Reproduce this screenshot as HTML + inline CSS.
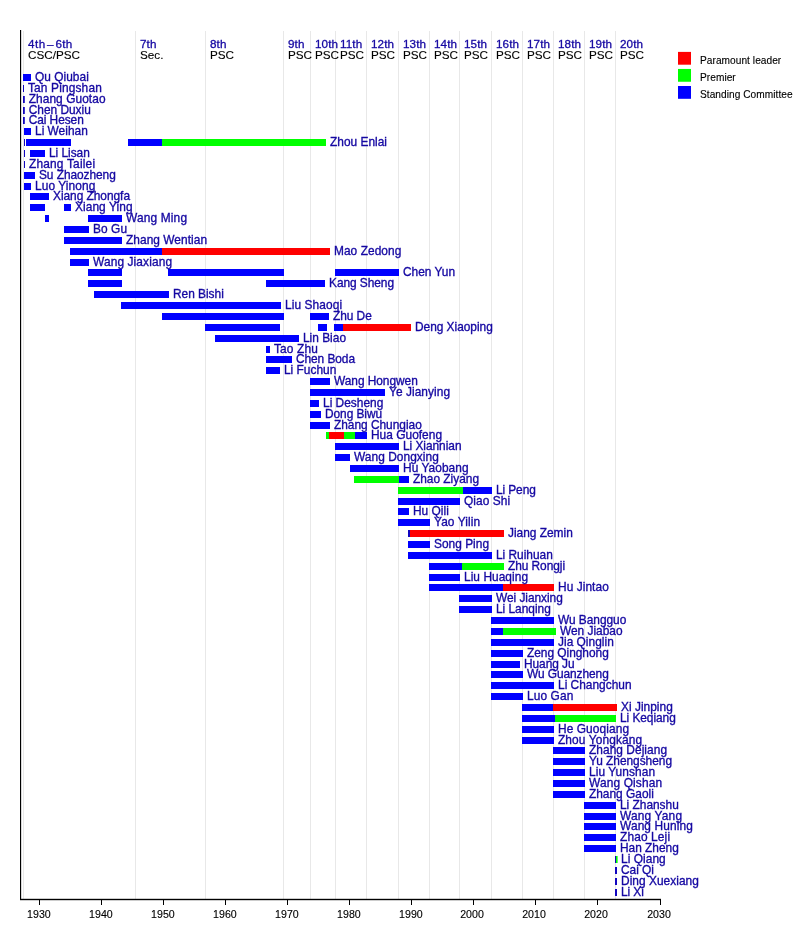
<!DOCTYPE html>
<html lang="en"><head><meta charset="utf-8"><title>Politburo Standing Committee timeline</title>
<style>html,body{margin:0;padding:0;background:#fff}svg{display:block}text{font-family:"Liberation Sans",Arial,Helvetica,sans-serif}.n{font-size:11.9px;fill:#1508a2;stroke:#1508a2;stroke-width:.33px}.h{font-size:11.7px;fill:#1508a2;stroke:#1508a2;stroke-width:.3px;letter-spacing:.1px}.k{font-size:11.7px;fill:#000;stroke:#000;stroke-width:.12px}.a{font-size:10.6px;fill:#000;stroke:#000;stroke-width:.12px;text-anchor:middle}.l{font-size:10.15px;fill:#000;stroke:#000;stroke-width:.12px;letter-spacing:.05px}</style></head><body>
<svg width="800" height="949" viewBox="0 0 800 949">
<rect width="800" height="949" fill="#fff"/>
<g fill="#e8e8e8">
<rect x="23" y="31" width="1" height="868"/>
<rect x="135" y="31" width="1" height="868"/>
<rect x="205" y="31" width="1" height="868"/>
<rect x="283" y="31" width="1" height="868"/>
<rect x="310" y="31" width="1" height="868"/>
<rect x="335" y="31" width="1" height="868"/>
<rect x="366" y="31" width="1" height="868"/>
<rect x="398" y="31" width="1" height="868"/>
<rect x="429" y="31" width="1" height="868"/>
<rect x="459" y="31" width="1" height="868"/>
<rect x="491" y="31" width="1" height="868"/>
<rect x="522" y="31" width="1" height="868"/>
<rect x="553" y="31" width="1" height="868"/>
<rect x="584" y="31" width="1" height="868"/>
<rect x="615" y="31" width="1" height="868"/>
</g>
<text class="h" x="28" y="48.2" style="letter-spacing:.45px">4th<tspan dx="1.5">–</tspan><tspan dx="-2.1" style="letter-spacing:.25px"> 6th</tspan></text><text class="k" x="28" y="58.6">CSC/PSC</text>
<text class="h" x="140" y="48.2">7th</text><text class="k" x="140" y="58.6">Sec.</text>
<text class="h" x="210" y="48.2">8th</text><text class="k" x="210" y="58.6">PSC</text>
<text class="h" x="288" y="48.2">9th</text><text class="k" x="288" y="58.6">PSC</text>
<text class="h" x="315" y="48.2">10th</text><text class="k" x="315" y="58.6">PSC</text>
<text class="h" x="340" y="48.2">11th</text><text class="k" x="340" y="58.6">PSC</text>
<text class="h" x="371" y="48.2">12th</text><text class="k" x="371" y="58.6">PSC</text>
<text class="h" x="403" y="48.2">13th</text><text class="k" x="403" y="58.6">PSC</text>
<text class="h" x="434" y="48.2">14th</text><text class="k" x="434" y="58.6">PSC</text>
<text class="h" x="464" y="48.2">15th</text><text class="k" x="464" y="58.6">PSC</text>
<text class="h" x="496" y="48.2">16th</text><text class="k" x="496" y="58.6">PSC</text>
<text class="h" x="527" y="48.2">17th</text><text class="k" x="527" y="58.6">PSC</text>
<text class="h" x="558" y="48.2">18th</text><text class="k" x="558" y="58.6">PSC</text>
<text class="h" x="589" y="48.2">19th</text><text class="k" x="589" y="58.6">PSC</text>
<text class="h" x="620" y="48.2">20th</text><text class="k" x="620" y="58.6">PSC</text>
<g>
<rect x="23" y="74" width="8" height="7" fill="#0000ff"/>
<rect x="23" y="85" width="1" height="7" fill="#1206c0"/>
<rect x="23" y="96" width="1.8" height="7" fill="#1206c0"/>
<rect x="23" y="107" width="1.8" height="7" fill="#1206c0"/>
<rect x="23" y="117" width="1.8" height="7" fill="#1206c0"/>
<rect x="24" y="128" width="7" height="7" fill="#0000ff"/>
<rect x="24" y="139" width="1" height="7" fill="#1206c0"/>
<rect x="26" y="139" width="45" height="7" fill="#0000ff"/>
<rect x="128" y="139" width="34" height="7" fill="#0000ff"/>
<rect x="162" y="139" width="164" height="7" fill="#00ff00"/>
<rect x="24" y="150" width="1" height="7" fill="#1206c0"/>
<rect x="30" y="150" width="15" height="7" fill="#0000ff"/>
<rect x="24" y="161" width="1" height="7" fill="#1206c0"/>
<rect x="24" y="172" width="11" height="7" fill="#0000ff"/>
<rect x="24" y="183" width="7" height="7" fill="#0000ff"/>
<rect x="30" y="193" width="19" height="7" fill="#0000ff"/>
<rect x="30" y="204" width="15" height="7" fill="#0000ff"/>
<rect x="64" y="204" width="7" height="7" fill="#0000ff"/>
<rect x="45" y="215" width="4" height="7" fill="#0000ff"/>
<rect x="88" y="215" width="34" height="7" fill="#0000ff"/>
<rect x="64" y="226" width="25" height="7" fill="#0000ff"/>
<rect x="64" y="237" width="58" height="7" fill="#0000ff"/>
<rect x="70" y="248" width="92" height="7" fill="#0000ff"/>
<rect x="162" y="248" width="168" height="7" fill="#ff0000"/>
<rect x="70" y="259" width="19" height="7" fill="#0000ff"/>
<rect x="88" y="269" width="34" height="7" fill="#0000ff"/>
<rect x="168" y="269" width="116" height="7" fill="#0000ff"/>
<rect x="335" y="269" width="64" height="7" fill="#0000ff"/>
<rect x="88" y="280" width="34" height="7" fill="#0000ff"/>
<rect x="266" y="280" width="59" height="7" fill="#0000ff"/>
<rect x="94" y="291" width="75" height="7" fill="#0000ff"/>
<rect x="121" y="302" width="160" height="7" fill="#0000ff"/>
<rect x="162" y="313" width="122" height="7" fill="#0000ff"/>
<rect x="310" y="313" width="19" height="7" fill="#0000ff"/>
<rect x="205" y="324" width="75" height="7" fill="#0000ff"/>
<rect x="318" y="324" width="9" height="7" fill="#0000ff"/>
<rect x="334" y="324" width="9" height="7" fill="#0000ff"/>
<rect x="343" y="324" width="68" height="7" fill="#ff0000"/>
<rect x="215" y="335" width="84" height="7" fill="#0000ff"/>
<rect x="266" y="346" width="4" height="7" fill="#0000ff"/>
<rect x="266" y="356" width="26" height="7" fill="#0000ff"/>
<rect x="266" y="367" width="14" height="7" fill="#0000ff"/>
<rect x="310" y="378" width="20" height="7" fill="#0000ff"/>
<rect x="310" y="389" width="75" height="7" fill="#0000ff"/>
<rect x="310" y="400" width="9" height="7" fill="#0000ff"/>
<rect x="310" y="411" width="11" height="7" fill="#0000ff"/>
<rect x="310" y="422" width="20" height="7" fill="#0000ff"/>
<rect x="326" y="432" width="3" height="7" fill="#00ff00"/>
<rect x="329" y="432" width="15" height="7" fill="#ff0000"/>
<rect x="344" y="432" width="11" height="7" fill="#00ff00"/>
<rect x="355" y="432" width="12" height="7" fill="#0000ff"/>
<rect x="335" y="443" width="64" height="7" fill="#0000ff"/>
<rect x="335" y="454" width="15" height="7" fill="#0000ff"/>
<rect x="350" y="465" width="49" height="7" fill="#0000ff"/>
<rect x="354" y="476" width="45" height="7" fill="#00ff00"/>
<rect x="399" y="476" width="10" height="7" fill="#0000ff"/>
<rect x="398" y="487" width="65" height="7" fill="#00ff00"/>
<rect x="463" y="487" width="29" height="7" fill="#0000ff"/>
<rect x="398" y="498" width="62" height="7" fill="#0000ff"/>
<rect x="398" y="508" width="11" height="7" fill="#0000ff"/>
<rect x="398" y="519" width="32" height="7" fill="#0000ff"/>
<rect x="408" y="530" width="2" height="7" fill="#1206c0"/>
<rect x="410" y="530" width="94" height="7" fill="#ff0000"/>
<rect x="408" y="541" width="22" height="7" fill="#0000ff"/>
<rect x="408" y="552" width="84" height="7" fill="#0000ff"/>
<rect x="429" y="563" width="33" height="7" fill="#0000ff"/>
<rect x="462" y="563" width="42" height="7" fill="#00ff00"/>
<rect x="429" y="574" width="31" height="7" fill="#0000ff"/>
<rect x="429" y="584" width="74" height="7" fill="#0000ff"/>
<rect x="503" y="584" width="51" height="7" fill="#ff0000"/>
<rect x="459" y="595" width="33" height="7" fill="#0000ff"/>
<rect x="459" y="606" width="33" height="7" fill="#0000ff"/>
<rect x="491" y="617" width="63" height="7" fill="#0000ff"/>
<rect x="491" y="628" width="12" height="7" fill="#0000ff"/>
<rect x="503" y="628" width="53" height="7" fill="#00ff00"/>
<rect x="491" y="639" width="63" height="7" fill="#0000ff"/>
<rect x="491" y="650" width="32" height="7" fill="#0000ff"/>
<rect x="491" y="661" width="29" height="7" fill="#0000ff"/>
<rect x="491" y="671" width="32" height="7" fill="#0000ff"/>
<rect x="491" y="682" width="63" height="7" fill="#0000ff"/>
<rect x="491" y="693" width="32" height="7" fill="#0000ff"/>
<rect x="522" y="704" width="31" height="7" fill="#0000ff"/>
<rect x="553" y="704" width="64" height="7" fill="#ff0000"/>
<rect x="522" y="715" width="33" height="7" fill="#0000ff"/>
<rect x="555" y="715" width="61" height="7" fill="#00ff00"/>
<rect x="522" y="726" width="32" height="7" fill="#0000ff"/>
<rect x="522" y="737" width="32" height="7" fill="#0000ff"/>
<rect x="553" y="747" width="32" height="7" fill="#0000ff"/>
<rect x="553" y="758" width="32" height="7" fill="#0000ff"/>
<rect x="553" y="769" width="32" height="7" fill="#0000ff"/>
<rect x="553" y="780" width="32" height="7" fill="#0000ff"/>
<rect x="553" y="791" width="32" height="7" fill="#0000ff"/>
<rect x="584" y="802" width="32" height="7" fill="#0000ff"/>
<rect x="584" y="813" width="32" height="7" fill="#0000ff"/>
<rect x="584" y="823" width="32" height="7" fill="#0000ff"/>
<rect x="584" y="834" width="32" height="7" fill="#0000ff"/>
<rect x="584" y="845" width="32" height="7" fill="#0000ff"/>
<rect x="615" y="856" width="1" height="7" fill="#1206c0"/>
<rect x="616" y="856" width="1.6" height="7" fill="#00ff00"/>
<rect x="615" y="867" width="2" height="7" fill="#1206c0"/>
<rect x="615" y="878" width="2" height="7" fill="#1206c0"/>
<rect x="615" y="889" width="2" height="7" fill="#1206c0"/>
</g>
<g class="n">
<text x="35" y="80.8" textLength="53.8">Qu Qiubai</text>
<text x="28" y="91.8" textLength="73.77">Tan Pingshan</text>
<text x="28.7" y="102.8" textLength="76.8">Zhang Guotao</text>
<text x="28.7" y="113.8" textLength="62.09">Chen Duxiu</text>
<text x="28.7" y="123.8" textLength="55.07">Cai Hesen</text>
<text x="35" y="134.8" textLength="52.77">Li Weihan</text>
<text x="330" y="145.8" textLength="57">Zhou Enlai</text>
<text x="49" y="156.8" textLength="40.77">Li Lisan</text>
<text x="29" y="167.8" textLength="66.05">Zhang Tailei</text>
<text x="39" y="178.8" textLength="76.77">Su Zhaozheng</text>
<text x="35" y="189.8" textLength="60.27">Luo Yinong</text>
<text x="53" y="199.8" textLength="77">Xiang Zhongfa</text>
<text x="75" y="210.8" textLength="57.52">Xiang Ying</text>
<text x="126" y="221.8" textLength="61.02">Wang Ming</text>
<text x="93" y="232.8" textLength="34.04">Bo Gu</text>
<text x="126" y="243.8" textLength="81.02">Zhang Wentian</text>
<text x="334" y="254.8" textLength="67.27">Mao Zedong</text>
<text x="93" y="265.8" textLength="79.02">Wang Jiaxiang</text>
<text x="403" y="275.8" textLength="52.02">Chen Yun</text>
<text x="329" y="286.8" textLength="65.02">Kang Sheng</text>
<text x="173" y="297.8" textLength="50.8">Ren Bishi</text>
<text x="285" y="308.8" textLength="57.05">Liu Shaoqi</text>
<text x="333" y="319.8" textLength="38.78">Zhu De</text>
<text x="415" y="330.8" textLength="77.77">Deng Xiaoping</text>
<text x="303" y="341.8" textLength="43">Lin Biao</text>
<text x="274" y="352.8" textLength="43.79">Tao Zhu</text>
<text x="296" y="362.8" textLength="59">Chen Boda</text>
<text x="284" y="373.8" textLength="52.27">Li Fuchun</text>
<text x="334" y="384.8" textLength="83.77">Wang Hongwen</text>
<text x="389" y="395.8" textLength="61.02">Ye Jianying</text>
<text x="323" y="406.8" textLength="60.27">Li Desheng</text>
<text x="325" y="417.8" textLength="57.04">Dong Biwu</text>
<text x="334" y="428.8" textLength="87.75">Zhang Chunqiao</text>
<text x="371" y="438.8" textLength="71.02">Hua Guofeng</text>
<text x="403" y="449.8" textLength="58.52">Li Xiannian</text>
<text x="354" y="460.8" textLength="84.77">Wang Dongxing</text>
<text x="403" y="471.8" textLength="65.52">Hu Yaobang</text>
<text x="413" y="482.8" textLength="66.02">Zhao Ziyang</text>
<text x="496" y="493.8" textLength="39.77">Li Peng</text>
<text x="464" y="504.8" textLength="46.05">Qiao Shi</text>
<text x="413" y="514.8" textLength="35.8">Hu Qili</text>
<text x="434" y="525.8" textLength="46.02">Yao Yilin</text>
<text x="508" y="536.8" textLength="64.77">Jiang Zemin</text>
<text x="434" y="547.8" textLength="55.02">Song Ping</text>
<text x="496" y="558.8" textLength="56.77">Li Ruihuan</text>
<text x="508" y="569.8" textLength="57.05">Zhu Rongji</text>
<text x="464" y="580.8" textLength="64.02">Liu Huaqing</text>
<text x="558" y="590.8" textLength="50.75">Hu Jintao</text>
<text x="496" y="601.8" textLength="66.77">Wei Jianxing</text>
<text x="496" y="612.8" textLength="54.77">Li Lanqing</text>
<text x="558" y="623.8" textLength="68.25">Wu Bangguo</text>
<text x="560" y="634.8" textLength="62.5">Wen Jiabao</text>
<text x="558" y="645.8" textLength="55.77">Jia Qinglin</text>
<text x="527" y="656.8" textLength="81.77">Zeng Qinghong</text>
<text x="524" y="667.8" textLength="50.54">Huang Ju</text>
<text x="527" y="677.8" textLength="81.77">Wu Guanzheng</text>
<text x="558" y="688.8" textLength="73.52">Li Changchun</text>
<text x="527" y="699.8" textLength="46.27">Luo Gan</text>
<text x="621" y="710.8" textLength="51.77">Xi Jinping</text>
<text x="620" y="721.8" textLength="55.77">Li Keqiang</text>
<text x="558" y="732.8" textLength="71.02">He Guoqiang</text>
<text x="558" y="743.8" textLength="84.02">Zhou Yongkang</text>
<text x="589" y="753.8" textLength="78.02">Zhang Dejiang</text>
<text x="589" y="764.8" textLength="83.02">Yu Zhengsheng</text>
<text x="589" y="775.8" textLength="66.02">Liu Yunshan</text>
<text x="589" y="786.8" textLength="73.02">Wang Qishan</text>
<text x="589" y="797.8" textLength="64.8">Zhang Gaoli</text>
<text x="620" y="808.8" textLength="58.79">Li Zhanshu</text>
<text x="620" y="819.8" textLength="62.02">Wang Yang</text>
<text x="620" y="829.8" textLength="72.77">Wang Huning</text>
<text x="620" y="840.8" textLength="50.05">Zhao Leji</text>
<text x="620" y="851.8" textLength="58.77">Han Zheng</text>
<text x="621" y="862.8" textLength="44.67">Li Qiang</text>
<text x="621" y="873.8" textLength="32.95">Cai Qi</text>
<text x="621" y="884.8" textLength="77.87">Ding Xuexiang</text>
<text x="621" y="895.8" textLength="22.8">Li Xi</text>
</g>
<rect x="20" y="30" width="1.15" height="870" fill="#000"/>
<rect x="20" y="898.8" width="641" height="1.4" fill="#000"/>
<rect x="39" y="899" width="1" height="6" fill="#000"/><text class="a" x="38.9" y="918.2">1930</text>
<rect x="101" y="899" width="1" height="6" fill="#000"/><text class="a" x="100.9" y="918.2">1940</text>
<rect x="163" y="899" width="1" height="6" fill="#000"/><text class="a" x="162.9" y="918.2">1950</text>
<rect x="225" y="899" width="1" height="6" fill="#000"/><text class="a" x="224.9" y="918.2">1960</text>
<rect x="287" y="899" width="1" height="6" fill="#000"/><text class="a" x="286.9" y="918.2">1970</text>
<rect x="349" y="899" width="1" height="6" fill="#000"/><text class="a" x="348.9" y="918.2">1980</text>
<rect x="411" y="899" width="1" height="6" fill="#000"/><text class="a" x="410.9" y="918.2">1990</text>
<rect x="473" y="899" width="1" height="6" fill="#000"/><text class="a" x="472" y="918.2">2000</text>
<rect x="535" y="899" width="1" height="6" fill="#000"/><text class="a" x="534" y="918.2">2010</text>
<rect x="597" y="899" width="1" height="6" fill="#000"/><text class="a" x="596" y="918.2">2020</text>
<rect x="660" y="899" width="1" height="6" fill="#000"/><text class="a" x="659" y="918.2">2030</text>
<rect x="678" y="51.9" width="13" height="12.8" fill="#ff0000"/><text class="l" x="700" y="63.8">Paramount leader</text>
<rect x="678" y="68.95" width="13" height="12.8" fill="#00ff00"/><text class="l" x="700" y="80.75">Premier</text>
<rect x="678" y="86" width="13" height="12.8" fill="#0000ff"/><text class="l" x="700" y="97.7">Standing Committee</text>
</svg></body></html>
